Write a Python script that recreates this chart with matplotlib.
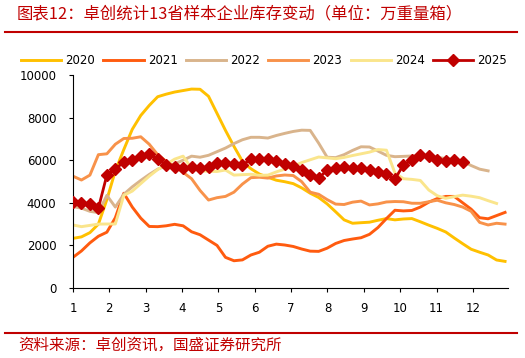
import matplotlib.pyplot as plt
import numpy as np

plt.rcParams['font.family'] = ['DejaVu Sans']

# weekly inventory, 10k weight boxes
y2020 = [2330, 2400, 2600, 3000, 4150, 5500, 6500, 7450, 8100, 8570, 8980, 9100, 9200,
         9270, 9340, 9330, 9000, 8200, 7400, 6650, 5950, 5600, 5350, 5200, 5060, 4990,
         4900, 4700, 4450, 4250, 3950, 3580, 3200, 3040, 3066, 3090, 3180, 3260, 3200,
         3240, 3260, 3110, 2950, 2800, 2630, 2350, 2080, 1820, 1680, 1550, 1315, 1250]
y2021 = [1440, 1740, 2120, 2430, 2620, 3300, 4450, 3800, 3280, 2890, 2880, 2920, 2990,
         2920, 2640, 2500, 2250, 2000, 1440, 1280, 1320, 1550, 1680, 1960, 2060, 2019,
         1950, 1830, 1730, 1720, 1870, 2090, 2230, 2300, 2360, 2520, 2840, 3260, 3650,
         3620, 3640, 3800, 4030, 4200, 4300, 4300, 4000, 3700, 3300, 3250, 3400, 3550]
y2022 = [3820, 3750, 3600, 3540, 4350, 3800, 4400, 4750, 5050, 5330, 5580, 5740, 5830,
         6000, 6190, 6140, 6230, 6400, 6570, 6780, 6960, 7075, 7075, 7040, 7160, 7260,
         7350, 7410, 7400, 6800, 6140, 6120, 6260, 6460, 6630, 6620, 6430, 6230, 6165,
         6180, 6197, 6197, 6190, 6130, 6080, 6040, 5950, 5750, 5580, 5500]
y2023 = [5250, 5070, 5300, 6260, 6300, 6750, 7020, 7030, 7100, 6750, 6260, 5950, 5700,
         5430, 5130, 4580, 4130, 4240, 4300, 4500, 4880, 5180, 5200, 5160, 5260, 5305,
         5280, 4990, 4500, 4400, 4150, 3940, 3920, 4030, 4080, 3900, 3950, 4040, 4060,
         4050, 3980, 3977, 4050, 4120, 4000, 3920, 3800, 3600, 3080, 2960, 3040, 3000]
y2024 = [2960, 2880, 2940, 3000, 3005, 3005, 4350, 4550, 4900, 5250, 5560, 5800, 6050,
         6190, 5620, 5500, 5480, 5470, 5540, 5300, 5320, 5340, 5290, 5300, 5450, 5580,
         5720, 5890, 6020, 6150, 6110, 6070, 6130, 6220, 6300, 6380, 6500, 6470, 5400,
         5130, 5100, 5050, 4600, 4330, 4210, 4290, 4360, 4310, 4240, 4100, 3970]
y2025 = [4050, 4000, 3950, 3750, 5300, 5600, 5900, 6000, 6200, 6290, 6060, 5780, 5680,
         5630, 5680, 5630, 5680, 5870, 5855, 5822, 5775, 6043, 6057, 6071, 5977, 5822,
         5728, 5540, 5305, 5150, 5540, 5620, 5667, 5620, 5620, 5540, 5460, 5338, 5118,
         5775, 6010, 6244, 6197, 6010, 5977, 6010, 5900]

series = {'2020': y2020, '2021': y2021, '2022': y2022,
          '2023': y2023, '2024': y2024, '2025': y2025}
colors = {'2020': '#FFC000', '2021': '#FF5B0F', '2022': '#D9B48C',
          '2023': '#F8924A', '2024': '#FAE58C', '2025': '#C00000'}

months = list(range(1, 13))
yticks = [0, 2000, 4000, 6000, 8000, 10000]

fig = plt.figure(figsize=(5.25, 3.58), dpi=100)
ax = fig.add_axes([0.139, 0.1955, 0.829, 0.595])

for name, vals in series.items():
    x = 1 + np.arange(len(vals)) * 12 / 51.5
    if name == '2025':
        ax.plot(x, vals, color=colors[name], lw=2, marker='D', ms=6.5, label=name, zorder=5)
    else:
        ax.plot(x, vals, color=colors[name], lw=2.1, label=name)

ax.set_xlim(1, 12.97)
ax.set_ylim(0, 10000)
ax.set_xticks(months)
ax.set_yticks(yticks)
ax.spines['top'].set_visible(False)
ax.spines['right'].set_visible(False)
ax.tick_params(axis='x', length=3, pad=7, labelsize=8.5)
ax.tick_params(axis='y', length=3, pad=9, labelsize=8.5)

ax.legend(ncol=6, loc='center', bbox_to_anchor=(0.503, 0.832), bbox_transform=fig.transFigure,
          frameon=False, fontsize=8.5, handlelength=3.4, handletextpad=0.35,
          columnspacing=0.7)

red = '#C00000'
cjk = ['Noto Sans CJK SC', 'DejaVu Sans']
fig.text(17 / 525, 1 - 14 / 358, '图表12：卓创统计13省样本企业库存变动（单位：万重量箱）',
         family=cjk, fontsize=11.8, color=red, style='italic', va='center', ha='left')
fig.text(18 / 525, 1 - 345 / 358, '资料来源：卓创资讯，国盛证券研究所',
         family=cjk, fontsize=11.2, color=red, style='italic', va='center', ha='left')
fig.add_artist(plt.Line2D([5 / 525, 517 / 525], [1 - 32 / 358] * 2, color=red, lw=1.5))
fig.add_artist(plt.Line2D([5 / 525, 517 / 525], [1 - 333 / 358] * 2, color=red, lw=1.5))

fig.savefig('out.png', dpi=100)
